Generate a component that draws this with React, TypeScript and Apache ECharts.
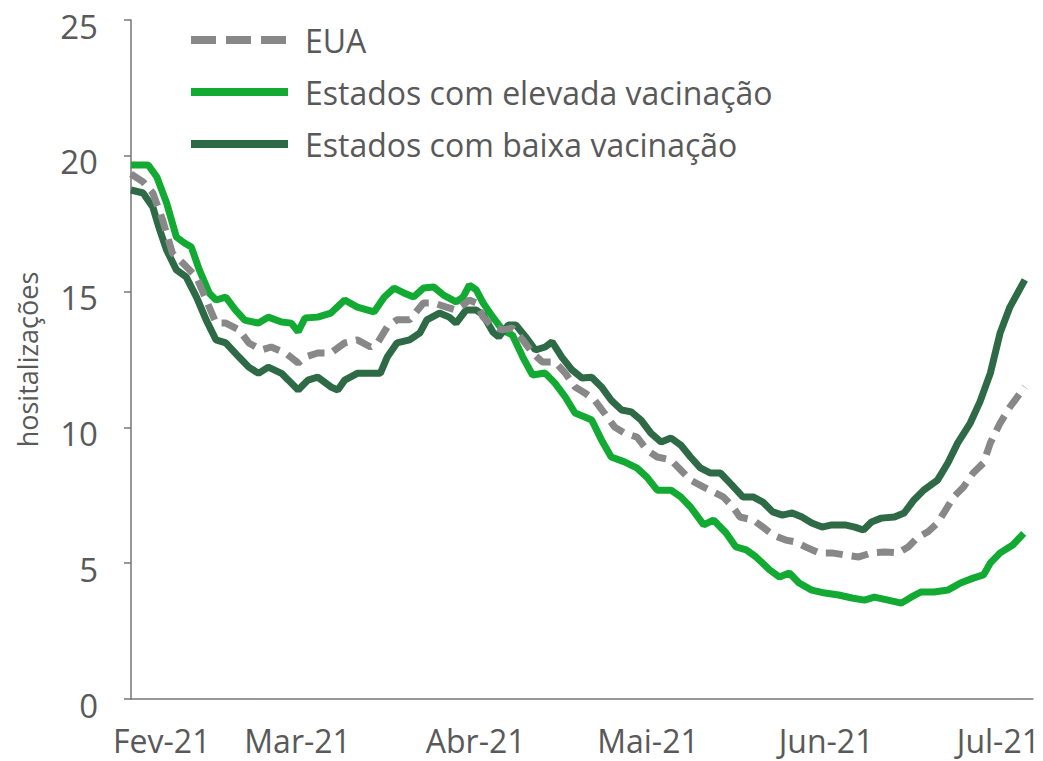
import React, { useEffect, useRef } from "react";
import * as echarts from "echarts";

// x = days since first data point (Jan 31, 2021)
const monthStartDays = [1, 29, 60, 90, 121, 151];
const monthLabels = ["Fev-21", "Mar-21", "Abr-21", "Mai-21", "Jun-21", "Jul-21"];
const yTicks = [0, 5, 10, 15, 20, 25];

const euaDays = [0, 2.1, 3.8, 5.5, 7.2, 9, 11.4, 13.1, 14.8, 16.5, 18.8, 20.5, 22.7, 24.4, 26.9, 29.1, 30.3, 32.5, 34.8, 37.2, 39.4, 41.7, 42.9, 44.6, 46.3, 48.5, 50.9, 52.7, 54.9, 56.6, 58.9, 60.1, 61.3, 63, 64.7, 66.4, 68.2, 69.9, 71.6, 73.8, 75.6, 77.3, 79, 80.7, 82.4, 84.2, 85.9, 88.1, 89.8, 91.6, 94, 95.7, 97.4, 99.7, 101.4, 103.1, 104.8, 106, 108.3, 110, 111.7, 114, 115.7, 117.4, 119.8, 122, 124.3, 126.7, 128.9, 131.2, 133.6, 135.3, 137, 138.7, 140.4, 141.5, 143.2, 144.9, 146.6, 148.4, 149.6, 151.3, 153, 155.6];
const euaValues = [19.33, 19.04, 18.63, 17.64, 16.42, 16.05, 15.54, 14.69, 13.84, 13.84, 13.59, 13.11, 12.85, 12.96, 12.74, 12.37, 12.59, 12.74, 12.74, 13.11, 13.22, 12.96, 13.11, 13.7, 13.96, 13.96, 14.58, 14.58, 14.43, 14.32, 14.69, 14.58, 14.06, 13.7, 13.59, 13.66, 13.22, 12.74, 12.41, 12.41, 12.0, 11.49, 11.27, 11.0, 10.53, 10.01, 9.79, 9.64, 9.17, 8.91, 8.8, 8.43, 8.06, 7.8, 7.62, 7.44, 7.07, 6.7, 6.59, 6.33, 6.04, 5.85, 5.78, 5.6, 5.38, 5.38, 5.3, 5.23, 5.38, 5.41, 5.38, 5.6, 5.96, 6.15, 6.48, 6.85, 7.44, 7.8, 8.32, 8.69, 9.43, 10.16, 10.75, 11.49];

const altaDays = [0, 3, 4.5, 6.2, 7.9, 9.3, 10.5, 11.9, 13.6, 14.8, 16.5, 18.2, 19.8, 22.2, 23.9, 26.2, 27.9, 29.1, 30.3, 32.5, 34.8, 37.2, 39.4, 42.3, 44.1, 45.8, 47.5, 49.2, 50.9, 52.7, 54.4, 56.6, 57.8, 58.9, 60.1, 61.3, 63, 64.7, 66.4, 68.2, 69.9, 72.1, 73.8, 75.6, 77.3, 79, 80.2, 81.9, 83.6, 85.9, 88.1, 89.8, 91.6, 94, 95.7, 97.4, 99.7, 101.4, 103.6, 105.3, 107.1, 108.8, 111.2, 112.9, 114.6, 116.3, 118.5, 120.8, 123.2, 125.5, 127.7, 129.4, 131.8, 134.1, 135.8, 137.5, 139.8, 142.2, 144.4, 146.6, 148.4, 149.6, 151.3, 153.5, 155.4];
const altaValues = [19.66, 19.66, 19.22, 18.26, 17.01, 16.79, 16.64, 15.8, 14.95, 14.69, 14.8, 14.32, 13.95, 13.84, 14.06, 13.88, 13.84, 13.52, 14.03, 14.06, 14.21, 14.69, 14.43, 14.25, 14.8, 15.13, 14.95, 14.8, 15.13, 15.17, 14.87, 14.62, 14.8, 15.24, 15.06, 14.58, 14.06, 13.58, 13.4, 12.59, 11.93, 12.0, 11.63, 11.12, 10.53, 10.38, 10.27, 9.54, 8.91, 8.73, 8.5, 8.17, 7.69, 7.69, 7.44, 7.07, 6.41, 6.59, 6.11, 5.6, 5.49, 5.23, 4.75, 4.49, 4.64, 4.27, 4.01, 3.9, 3.83, 3.72, 3.64, 3.75, 3.64, 3.53, 3.75, 3.94, 3.94, 4.01, 4.27, 4.45, 4.57, 5.01, 5.38, 5.67, 6.1];

const baixaDays = [0, 2.1, 3.8, 5, 6.2, 7.9, 9.6, 11.4, 13.1, 14.8, 16.5, 18.8, 20.5, 22.2, 23.9, 26.2, 27.4, 29.1, 30.8, 32.5, 34.8, 36, 37.2, 39.4, 41.7, 43.4, 44.6, 46.3, 48.5, 50.3, 51.5, 53.7, 55.4, 56.6, 58.3, 60.1, 61.3, 63, 64, 65.7, 67, 68.7, 70.4, 72.1, 73.3, 75, 76.8, 78.5, 80.2, 81.9, 83.6, 85.4, 87.1, 88.8, 90.5, 92.3, 94, 95.7, 97.4, 99.1, 100.9, 102.6, 104.5, 106.5, 108.3, 110, 111.7, 113.4, 115.1, 116.8, 118.5, 120.3, 122, 124.3, 126, 127.5, 128.9, 130.6, 132.9, 134.6, 136.3, 138, 140.4, 142.2, 143.9, 146.1, 147.8, 149.6, 151.3, 153, 155.6];
const baixaValues = [18.74, 18.63, 18.11, 17.27, 16.53, 15.8, 15.54, 14.8, 13.95, 13.22, 13.11, 12.59, 12.22, 11.99, 12.22, 11.99, 11.74, 11.38, 11.74, 11.85, 11.49, 11.38, 11.74, 11.99, 11.99, 11.99, 12.59, 13.11, 13.22, 13.48, 13.96, 14.21, 14.06, 13.84, 14.32, 14.32, 14.14, 13.51, 13.33, 13.77, 13.77, 13.33, 12.85, 12.96, 13.15, 12.59, 12.11, 11.82, 11.85, 11.49, 11.0, 10.64, 10.57, 10.27, 9.79, 9.46, 9.61, 9.35, 8.91, 8.51, 8.32, 8.32, 7.9, 7.44, 7.44, 7.25, 6.89, 6.77, 6.85, 6.7, 6.48, 6.33, 6.41, 6.41, 6.33, 6.22, 6.52, 6.66, 6.7, 6.85, 7.33, 7.69, 8.06, 8.69, 9.42, 10.16, 10.95, 12.0, 13.48, 14.43, 15.43];

const pairs = (xs: number[], ys: number[]) => xs.map((x, i) => [x, ys[i]]);

const FONT = "'Open Sans', 'Noto Sans', sans-serif";
const TEXT = "#595959";
const AXIS = "#767676";
const GRAY = "#888888";
const GREEN = "#12AA33";
const DARK = "#2E6A45";

export default function App() {
  const ref = useRef<HTMLDivElement>(null);
  useEffect(() => {
    if (!ref.current) return;
    const chart = echarts.init(ref.current, null, { renderer: "svg" });
    chart.setOption({
      animation: false,
      backgroundColor: "#ffffff",
      textStyle: { fontFamily: FONT },
      grid: { left: 131, right: 0, top: 20, bottom: 62, containLabel: false },
      legend: {
        orient: "vertical",
        left: 187,
        top: 22,
        padding: 0,
        itemWidth: 97,
        itemHeight: 10,
        itemGap: 16,
        textStyle: { fontSize: 32, color: TEXT, fontFamily: FONT, lineHeight: 36, padding: [0, 0, 0, 12] },
        lineStyle: { width: 8 },
        data: [
          { name: "EUA", lineStyle: { width: 8, type: [25, 10], color: GRAY }, itemStyle: { opacity: 0 } },
          { name: "Estados com elevada vacinação", lineStyle: { width: 8, color: GREEN } },
          { name: "Estados com baixa vacinação", lineStyle: { width: 8, color: DARK } },
        ],
      },
      xAxis: {
        type: "value",
        min: 0,
        max: 157,
        axisLine: { show: true, lineStyle: { color: AXIS, width: 1.5 } },
        axisTick: { show: false },
        splitLine: { show: false },
        axisLabel: {
          customValues: monthStartDays,
          fontSize: 32,
          color: TEXT,
          fontFamily: FONT,
          margin: 25,
          formatter: (v: number) => {
            const i = monthStartDays.indexOf(v);
            const s = i >= 0 ? monthLabels[i] : "";
            return i === 0 ? "{f|" + s + "}" : s;
          },
          rich: { f: { fontSize: 32, color: TEXT, fontFamily: FONT, padding: [0, 0, 0, 50] } },
        },
      },
      yAxis: {
        type: "value",
        min: 0,
        max: 25,
        interval: 5,
        name: "hositalizações",
        nameLocation: "middle",
        nameRotate: 90,
        nameGap: 90,
        nameTextStyle: { fontSize: 27, color: TEXT, fontFamily: FONT },
        axisLine: { show: true, lineStyle: { color: AXIS, width: 1.5 } },
        axisTick: { show: true, length: 7, lineStyle: { color: AXIS, width: 1.5 } },
        splitLine: { show: false },
        axisLabel: {
          customValues: yTicks,
          fontSize: 33,
          color: TEXT,
          fontFamily: FONT,
          margin: 33,
          formatter: (v: number) => "{t|" + v + "}",
          rich: { t: { fontSize: 33, color: TEXT, fontFamily: FONT, padding: [12, 0, 0, 0] } },
        },
      },
      series: [
        {
          name: "EUA",
          type: "line",
          data: pairs(euaDays, euaValues),
          symbol: "none",
          z: 4,
          lineStyle: { color: GRAY, width: 7, type: [17, 9] },
          itemStyle: { color: GRAY },
        },
        {
          name: "Estados com elevada vacinação",
          type: "line",
          data: pairs(altaDays, altaValues),
          symbol: "none",
          z: 2,
          lineStyle: { color: GREEN, width: 7 },
          itemStyle: { color: GREEN },
        },
        {
          name: "Estados com baixa vacinação",
          type: "line",
          data: pairs(baixaDays, baixaValues),
          symbol: "none",
          z: 3,
          lineStyle: { color: DARK, width: 7 },
          itemStyle: { color: DARK },
        },
      ],
    });
    return () => chart.dispose();
  }, []);
  return (
    <div
      ref={ref}
      style={{ position: "fixed", left: 0, top: 0, width: 1043, height: 761, background: "#fff" }}
    />
  );
}
